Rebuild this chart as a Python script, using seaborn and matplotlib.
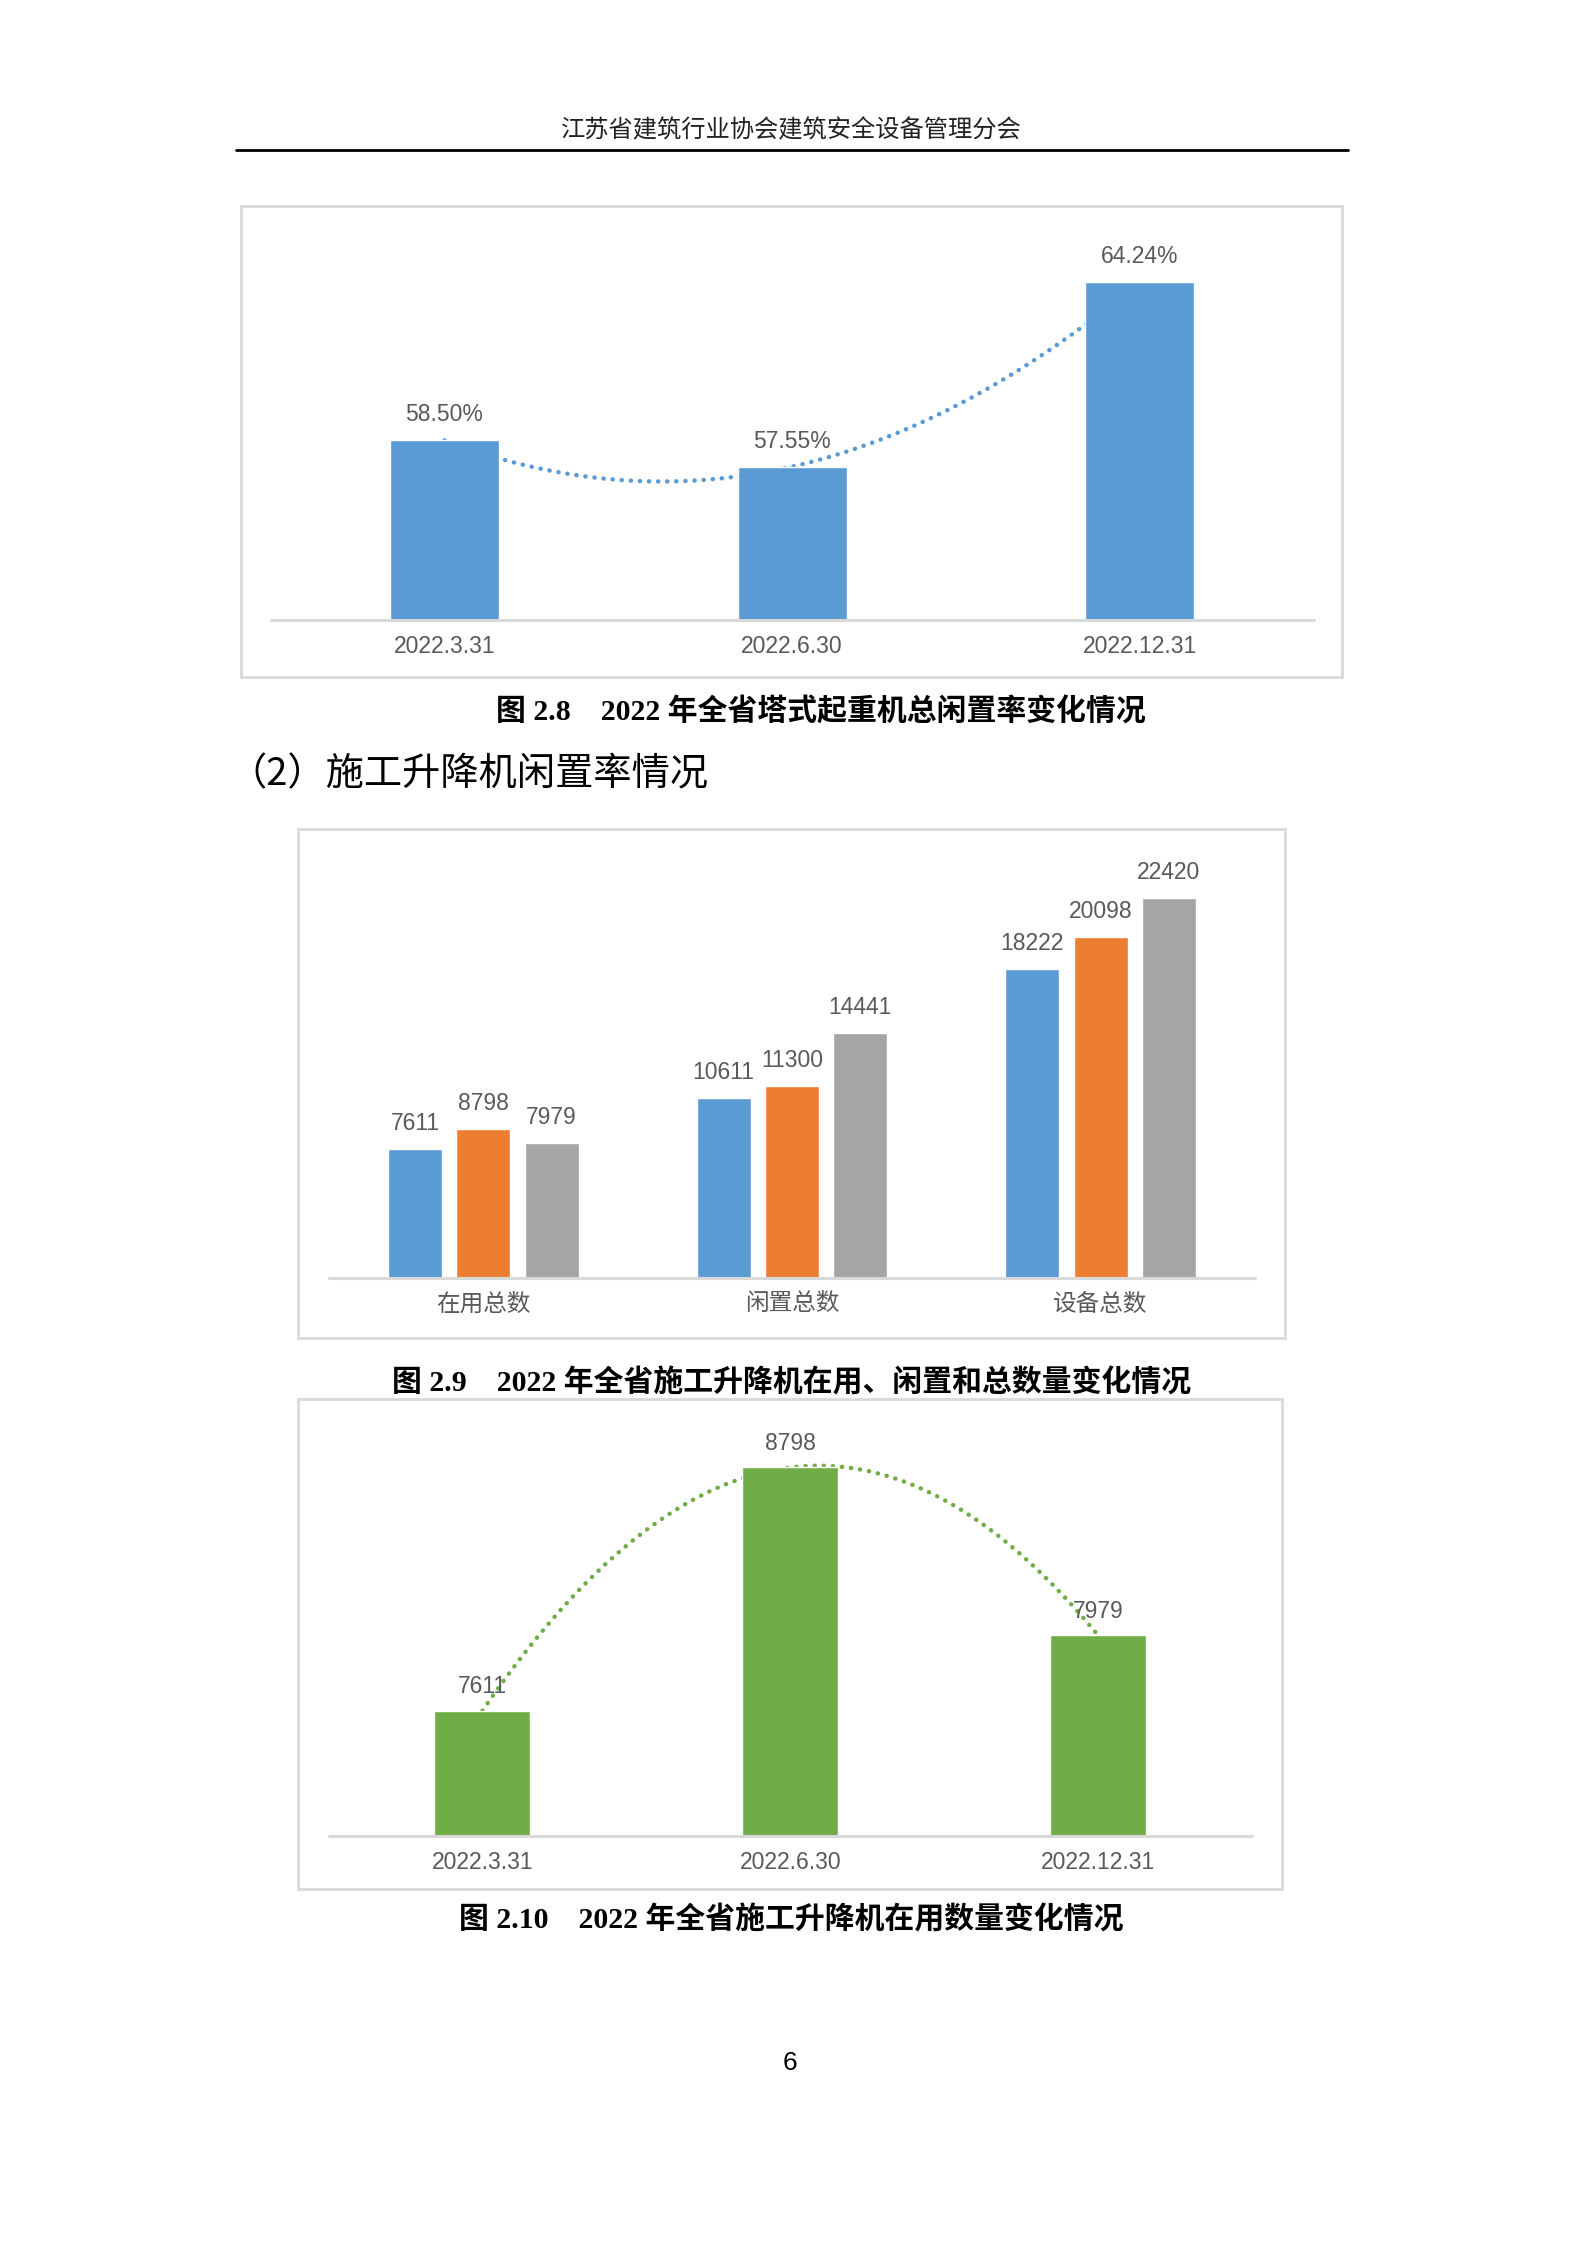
import numpy as np
import pandas as pd
import matplotlib
matplotlib.use("Agg")
import matplotlib.pyplot as plt
from matplotlib.patches import Rectangle
from matplotlib import font_manager
import seaborn as sns

# datos
fechas = ['2022.3.31', '2022.6.30', '2022.12.31']
tasa_ociosa_torre = [58.50, 57.55, 64.24]   # %
grupos = ['在用总数', '闲置总数', '设备总数']
en_uso = [7611, 8798, 7979]
ociosos = [10611, 11300, 14441]
totales = [18222, 20098, 22420]

azul = '#5B9BD5'
naranja = '#ED7D31'
gris = '#A5A5A5'
verde = '#70AD47'
gris_texto = '#595959'
gris_linea = '#D9D9D9'

sns.set_theme(style='white')
instaladas = {f.name for f in font_manager.fontManager.ttflist}
fuente_num = 'Liberation Sans Narrow' if 'Liberation Sans Narrow' in instaladas else 'Liberation Sans'
tam_num = 18 if fuente_num == 'Liberation Sans Narrow' else 16.5
plt.rcParams['font.family'] = [fuente_num, 'Noto Sans CJK SC', 'DejaVu Sans']

W, H = 1586, 2244
fig = plt.figure(figsize=(W / 100, H / 100), dpi=100)


def fx(px):
    return px / W


def fy(py):
    return 1 - py / H


def caja(x0, y0, x1, y1):
    fig.patches.append(Rectangle((fx(x0), fy(y1)), fx(x1) - fx(x0), fy(y0) - fy(y1),
                                 transform=fig.transFigure, fill=False,
                                 edgecolor=gris_linea, linewidth=2))


def ejes(x0, x1, top, base):
    return fig.add_axes([fx(x0), fy(base), fx(x1) - fx(x0), fy(top) - fy(base)])


def limpiar(ax, ymin, ymax):
    ax.set_ylim(ymin, ymax)
    ax.set_xlim(-0.5, 2.5)
    for s in ax.spines.values():
        s.set_visible(False)
    ax.set_yticks([])
    ax.set_xlabel('')
    ax.set_ylabel('')
    ax.axhline(ymin, color=gris_linea, linewidth=2.2, zorder=5, clip_on=False)
    ax.tick_params(axis='x', length=0, pad=11, labelsize=tam_num, labelcolor=gris_texto)
    ax.patch.set_alpha(0)


punteado = dict(linewidth=3.2, linestyle=(0, (0.05, 2.0)), dash_capstyle='round',
                solid_capstyle='round', zorder=0.5)
fuente_pie = ['Liberation Serif', 'Noto Sans CJK SC']

# encabezado de pagina
fig.text(fx(791), fy(130), '江苏省建筑行业协会建筑安全设备管理分会', ha='center', va='center',
         fontsize=17.5, family=['Noto Sans CJK SC'], color='#222222')
fig.add_artist(plt.Line2D([fx(236), fx(1348)], [fy(150), fy(150)], color='black',
                          linewidth=2, transform=fig.transFigure))

# ---------------- figura 2.8 ----------------
caja(241, 206, 1342, 677)
ax1 = ejes(270.6, 1313.7, 233, 620)
sns.barplot(x=fechas, y=tasa_ociosa_torre, color=azul, saturation=1, width=0.313, ax=ax1)
sns.regplot(x=np.arange(len(fechas)), y=tasa_ociosa_torre, order=2, ci=None, scatter=False,
            ax=ax1, line_kws=dict(color=azul, **punteado))
ax1.bar_label(ax1.containers[0], labels=[f'{v:.2f}%' for v in tasa_ociosa_torre],
              padding=10, fontsize=tam_num, color=gris_texto)
limpiar(ax1, 52, 66)

fig.text(fx(821), fy(712), '图 2.8    2022 年全省塔式起重机总闲置率变化情况', ha='center', va='center',
         fontsize=21.5, fontweight='bold', family=fuente_pie, color='black')
fig.text(fx(709), fy(775), '（2）施工升降机闲置率情况', ha='right', va='center',
         fontsize=27.5, family=['Noto Sans CJK SC'], color='black')

# ---------------- figura 2.9 ----------------
caja(298.4, 829, 1285, 1338)
ax2 = ejes(329, 1255, 854, 1278)
# cada fecha es una serie (azul, naranja, gris)
tabla = pd.DataFrame({
    'grupo': grupos * 3,
    'fecha': np.repeat(fechas, 3),
    'valor': [en_uso[0], ociosos[0], totales[0],
              en_uso[1], ociosos[1], totales[1],
              en_uso[2], ociosos[2], totales[2]],
})
sns.barplot(data=tabla, x='grupo', y='valor', hue='fecha', palette=[azul, naranja, gris],
            saturation=1, width=0.664, gap=0.21, legend=False, ax=ax2)
for cont in ax2.containers:
    ax2.bar_label(cont, fmt='%d', padding=10, fontsize=tam_num, color=gris_texto)
limpiar(ax2, 0, 25000)
ax2.tick_params(axis='x', labelsize=17)

fig.text(fx(792), fy(1383), '图 2.9    2022 年全省施工升降机在用、闲置和总数量变化情况', ha='center',
         va='center', fontsize=21.5, fontweight='bold', family=fuente_pie, color='black')

# ---------------- figura 2.10 ----------------
caja(298.4, 1399, 1282, 1889)
ax3 = ejes(328.5, 1252, 1426, 1836)
sns.barplot(x=fechas, y=en_uso, color=verde, saturation=1, width=0.312, ax=ax3)
sns.regplot(x=np.arange(len(fechas)), y=en_uso, order=2, ci=None, scatter=False,
            ax=ax3, line_kws=dict(color=verde, **punteado))
ax3.bar_label(ax3.containers[0], fmt='%d', padding=9, fontsize=tam_num, color=gris_texto)
limpiar(ax3, 7000, 9000)

fig.text(fx(791), fy(1920), '图 2.10    2022 年全省施工升降机在用数量变化情况', ha='center', va='center',
         fontsize=21.5, fontweight='bold', family=fuente_pie, color='black')

# numero de pagina
fig.text(fx(790), fy(2063), '6', ha='center', va='center', fontsize=19,
         family=['Liberation Sans'], color='black')

fig.savefig('out.png', dpi=100, facecolor='white')
